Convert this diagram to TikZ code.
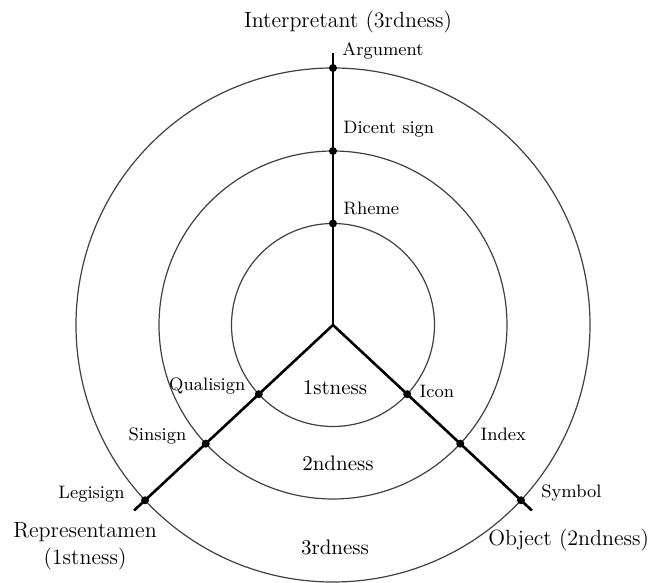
\documentclass[tikz,border=0pt]{standalone}
\usepackage{amsmath}
\usetikzlibrary{positioning}
\begin{document}
\begin{tikzpicture}[x=0.5pt, y=0.5pt]

\tikzset{
    anello/.style={draw=black!75, line width=0.6pt},
    raggio/.style={line width=1.3pt},
    punto/.style={circle, fill=black, inner sep=0pt, minimum size=4pt},
    etichetta/.style={font=\fontsize{9}{10}\selectfont, inner sep=1pt},
    zona/.style={font=\fontsize{10.5}{12}\selectfont},
    titolo/.style={font=\fontsize{11}{12}\selectfont, inner sep=1pt}
}

\useasboundingbox (-333,-258) rectangle (320,325);

% centro
\coordinate (O) at (0,0);

% cerchi
\draw[anello] (O) circle (101.5);
\draw[anello] (O) circle (174);
\draw[anello] (O) circle (257);

% raggi
\coordinate (fineI) at (90:272);
\coordinate (fineR) at (223:272);
\coordinate (fineO) at (-43:272);
\draw[raggio] (O) -- (fineI);
\draw[raggio] (O) -- (fineR);
\draw[raggio] (O) -- (fineO);

% punti - interpretante
\node[punto] (rheme) at (90:101.5) {};
\node[punto] (dicent) at (90:174) {};
\node[punto] (argument) at (90:257) {};

% punti - representamen
\node[punto] (quali) at (223:101.5) {};
\node[punto] (sin) at (223:174) {};
\node[punto] (legi) at (223:257) {};

% punti - oggetto
\node[punto] (icon) at (-43:101.5) {};
\node[punto] (index) at (-43:174) {};
\node[punto] (symbol) at (-43:257) {};

% etichette
\node[etichetta, anchor=west] at ([shift={(3.5pt,8.5pt)}]argument) {Argument};
\node[etichetta, anchor=west] at ([shift={(4pt,11pt)}]dicent) {Dicent sign};
\node[etichetta, anchor=west] at ([shift={(4pt,7.5pt)}]rheme) {Rheme};

\node[etichetta, anchor=east] at ([shift={(-5.5pt,4pt)}]quali) {Qualisign};
\node[etichetta, anchor=east] at ([shift={(-8.5pt,4pt)}]sin) {Sinsign};
\node[etichetta, anchor=east] at ([shift={(-9pt,3pt)}]legi) {Legisign};

\node[etichetta, anchor=west] at ([shift={(5pt,1.5pt)}]icon) {Icon};
\node[etichetta, anchor=west] at ([shift={(9pt,4.5pt)}]index) {Index};
\node[etichetta, anchor=west] at ([shift={(9pt,3.5pt)}]symbol) {Symbol};

% zone
\node[zona] (primo) at (2,-63) {1stness};
\node[zona] (secondo) at (5,-138) {2ndness};
\node[zona] (terzo) at (2,-222) {3rdness};

% titoli
\node[titolo] (interp) at (15,303) {Interpretant (3rdness)};
\node[titolo] (rappr) at (-248,-207) {Representamen};
\node[titolo, below=1pt of rappr] (rappr1) {(1stness)};
\node[titolo, anchor=west] (ogg) at (153,-215) {Object (2ndness)};

\end{tikzpicture}
\end{document}
